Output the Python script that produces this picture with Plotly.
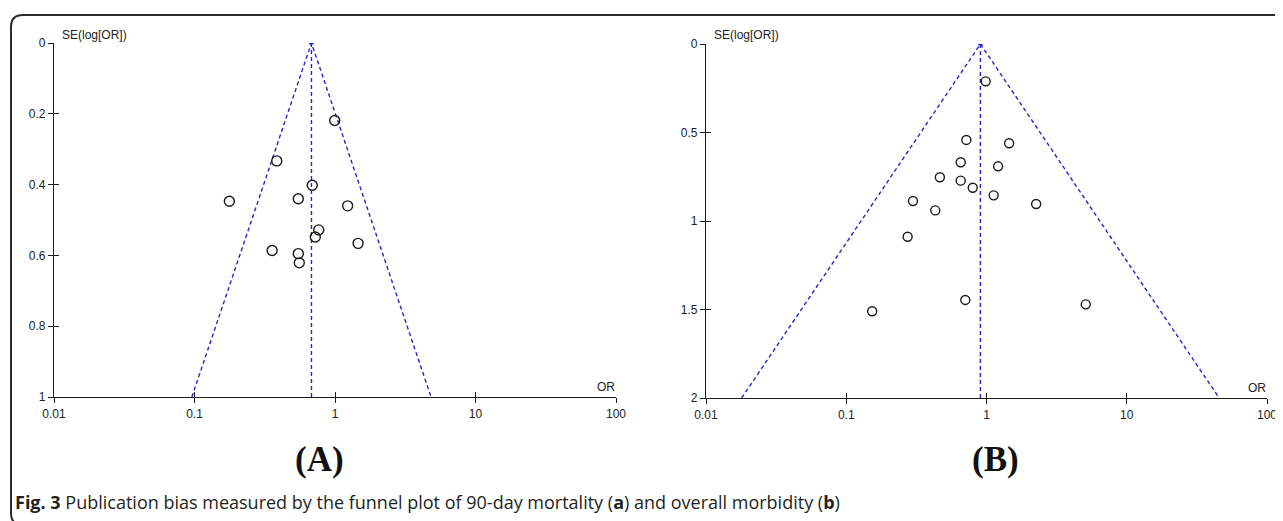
import math
import plotly.graph_objects as go

# ---------------- data ----------------
# Panel A: 90-day mortality
or_a = [0.995, 0.385, 0.689, 0.177, 0.548, 1.23, 0.766, 0.724, 1.46, 0.357, 0.548, 0.557]
se_a = [0.219, 0.333, 0.402, 0.447, 0.440, 0.460, 0.528, 0.548, 0.566, 0.586, 0.595, 0.621]
pooled_a = 0.68
semax_a = 1.0

# Panel B: overall morbidity
or_b = [0.987, 0.718, 1.45, 0.655, 1.21, 0.465, 0.655, 0.798, 1.125, 0.299, 2.26, 0.431,
        0.274, 0.706, 0.153, 5.10]
se_b = [0.211, 0.542, 0.561, 0.668, 0.691, 0.753, 0.772, 0.812, 0.855, 0.887, 0.904, 0.940,
        1.089, 1.446, 1.510, 1.471]
pooled_b = 0.905
semax_b = 2.0

x_ticks = [0.01, 0.1, 1, 10, 100]
x_ticktext = ["0.01", "0.1", "1", "10", "100"]
y_ticks_a = [0, 0.2, 0.4, 0.6, 0.8, 1]
y_ticktext_a = ["0", "0.2", "0.4", "0.6", "0.8", "1"]
y_ticks_b = [0, 0.5, 1, 1.5, 2]
y_ticktext_b = ["0", "0.5", "1", "1.5", "2"]

panel_labels = ["(A)", "(B)"]
axis_title_y = "SE(log[OR])"
axis_title_x = "OR"
caption = ("<b>Fig. 3</b> Publication bias measured by the funnel plot of 90-day mortality "
           "(<b>a</b>) and overall morbidity (<b>b</b>)")

# ---------------- layout helpers ----------------
W, H = 1283, 521
OFF = 8  # page body margin of the html document
def px(x):
    return (x - OFF) / W
def py(y):
    return 1 - (y - OFF) / H

BLUE = "#2626c8"
INK = "#1a1a1a"
fig = go.Figure()

def funnel(center, semax, xa, ya):
    lo = center * math.exp(-1.96 * semax)
    hi = center * math.exp(1.96 * semax)
    fig.add_trace(go.Scatter(x=[lo, center, hi], y=[semax, 0, semax], mode="lines",
                             line=dict(color=BLUE, width=1.4, dash="4px,3px"),
                             xaxis=xa, yaxis=ya, hoverinfo="skip", showlegend=False))
    fig.add_trace(go.Scatter(x=[center, center], y=[0, semax], mode="lines",
                             line=dict(color=BLUE, width=1.4, dash="4px,3px"),
                             xaxis=xa, yaxis=ya, hoverinfo="skip", showlegend=False))
    fig.add_trace(go.Scatter(x=[center], y=[0], mode="markers",
                             marker=dict(symbol="triangle-up", size=5, color=BLUE),
                             xaxis=xa, yaxis=ya, hoverinfo="skip", showlegend=False))

funnel(pooled_a, semax_a, "x", "y")
funnel(pooled_b, semax_b, "x2", "y2")

fig.add_trace(go.Scatter(x=or_a, y=se_a, mode="markers", xaxis="x", yaxis="y",
                         marker=dict(symbol="circle-open", size=10, color=INK,
                                     line=dict(width=1.4, color=INK)),
                         showlegend=False))
fig.add_trace(go.Scatter(x=or_b, y=se_b, mode="markers", xaxis="x2", yaxis="y2",
                         marker=dict(symbol="circle-open", size=9, color=INK,
                                     line=dict(width=1.4, color=INK)),
                         showlegend=False))

# invisible traces to make overlay axes render
for xa, ya in [("x3", "y3"), ("x4", "y4")]:
    fig.add_trace(go.Scatter(x=[1], y=[0], mode="markers", marker=dict(opacity=0),
                             xaxis=xa, yaxis=ya, hoverinfo="skip", showlegend=False))

dom_xa = [px(54), px(616)]
dom_xb = [px(706), px(1267)]
dom_ya = [py(397), py(43)]
dom_yb = [py(398), py(44)]

tickfont = dict(family="Liberation Sans, Arial", size=12, color="#222")
common_x = dict(type="log", range=[-2, 2], tickvals=x_ticks, showgrid=False, zeroline=False,
                showline=True, linecolor=INK, linewidth=1.3, ticklen=5, tickwidth=1,
                tickcolor=INK, tickfont=tickfont, automargin=False)
common_y = dict(showgrid=False, zeroline=False, showline=True, linecolor=INK, linewidth=1.3,
                ticklen=5, tickwidth=1, tickcolor=INK, tickfont=tickfont, automargin=False)

fig.update_layout(
    width=W, height=H, margin=dict(l=0, r=0, t=0, b=0, pad=0, autoexpand=False),
    paper_bgcolor="white", plot_bgcolor="white", showlegend=False,
    xaxis=dict(**common_x, domain=dom_xa, anchor="y", ticks="outside", ticktext=x_ticktext),
    yaxis=dict(**common_y, domain=dom_ya, anchor="x", range=[semax_a, 0], ticks="outside",
               tickvals=y_ticks_a, ticktext=y_ticktext_a),
    xaxis2=dict(**common_x, domain=dom_xb, anchor="y2", ticks="outside", ticktext=x_ticktext),
    yaxis2=dict(**common_y, domain=dom_yb, anchor="x2", range=[semax_b, 0], ticks="outside",
                tickvals=y_ticks_b, ticktext=y_ticktext_b),
    # overlay axes for the inward half of the crossing tick marks
    xaxis3=dict(**common_x, overlaying="x", anchor="y", ticks="inside", showticklabels=False),
    yaxis3=dict(**common_y, overlaying="y", anchor="x", range=[semax_a, 0], ticks="inside",
                tickvals=y_ticks_a, showticklabels=False),
    xaxis4=dict(**common_x, overlaying="x2", anchor="y2", ticks="inside", showticklabels=False),
    yaxis4=dict(**common_y, overlaying="y2", anchor="x2", range=[semax_b, 0], ticks="inside",
                tickvals=y_ticks_b, showticklabels=False),
)

ann_font = dict(family="Liberation Sans, Arial", size=12, color="#222")
anns = [
    dict(text=axis_title_y, x=px(60), y=py(35), xanchor="left", yanchor="middle", font=ann_font),
    dict(text=axis_title_y, x=px(712), y=py(35), xanchor="left", yanchor="middle", font=ann_font),
    dict(text=axis_title_x, x=px(617), y=py(396), xanchor="right", yanchor="bottom", font=ann_font),
    dict(text=axis_title_x, x=px(1268), y=py(397), xanchor="right", yanchor="bottom", font=ann_font),
    dict(text="<b>%s</b>" % panel_labels[0], x=px(319), y=py(459), xanchor="center", yanchor="middle",
         font=dict(family="Liberation Serif, Times New Roman", size=35, color="#111")),
    dict(text="<b>%s</b>" % panel_labels[1], x=px(995), y=py(459), xanchor="center", yanchor="middle",
         font=dict(family="Liberation Serif, Times New Roman", size=35, color="#111")),
    dict(text=caption, x=px(13), y=py(502), xanchor="left", yanchor="middle",
         font=dict(family="Open Sans", size=18, color="#231f20")),
]
for a in anns:
    a.update(xref="paper", yref="paper", showarrow=False)
fig.update_layout(annotations=anns)

# rounded frame around the figure
x0, y0, x1, y1, r = 11, 15, 1300, 525, 12
path = (f"M {px(x0 + r)},{py(y0)} L {px(x1 - r)},{py(y0)} "
        f"Q {px(x1)},{py(y0)} {px(x1)},{py(y0 + r)} L {px(x1)},{py(y1 - r)} "
        f"Q {px(x1)},{py(y1)} {px(x1 - r)},{py(y1)} L {px(x0 + r)},{py(y1)} "
        f"Q {px(x0)},{py(y1)} {px(x0)},{py(y1 - r)} L {px(x0)},{py(y0 + r)} "
        f"Q {px(x0)},{py(y0)} {px(x0 + r)},{py(y0)} Z")
fig.add_shape(type="path", path=path, xref="paper", yref="paper",
              line=dict(color="#2b2b2b", width=2), fillcolor="rgba(0,0,0,0)", layer="below")

fig.write_html("out.html")
